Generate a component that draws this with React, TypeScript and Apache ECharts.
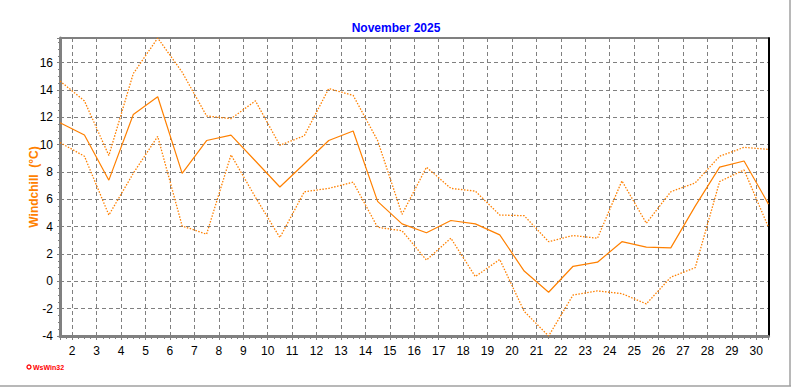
import React, { useEffect, useRef } from "react";
import * as echarts from "echarts";

const TITLE = "November 2025";
const Y_NAME = "Windchill  (°C)";
const CREDIT = "WsWin32";

// x positions (midday of each day)
const days = [
  1.5, 2.5, 3.5, 4.5, 5.5, 6.5, 7.5, 8.5, 9.5, 10.5,
  11.5, 12.5, 13.5, 14.5, 15.5, 16.5, 17.5, 18.5, 19.5, 20.5,
  21.5, 22.5, 23.5, 24.5, 25.5, 26.5, 27.5, 28.5, 29.5, 30.5,
];

// mean windchill (solid)
const meanValues = [
  11.6, 10.7, 7.4, 12.2, 13.5, 7.9, 10.3, 10.7, 8.8, 6.9,
  8.6, 10.3, 11.0, 5.85, 4.2, 3.55, 4.45, 4.2, 3.4, 0.75,
  -0.8, 1.1, 1.4, 2.9, 2.5, 2.45, 5.5, 8.35, 8.8, 5.65,
];

// maximum (upper dotted)
const maxValues = [
  14.65, 13.2, 9.2, 15.2, 17.8, 15.3, 12.1, 11.9, 13.2, 9.95,
  10.65, 14.1, 13.6, 10.3, 4.9, 8.35, 6.8, 6.6, 4.85, 4.8,
  2.9, 3.35, 3.15, 7.35, 4.25, 6.55, 7.2, 9.15, 9.8, 9.65,
];

// minimum (lower dotted)
const minValues = [
  10.15, 9.15, 4.85, 7.9, 10.6, 4.05, 3.45, 9.25, 6.15, 3.2,
  6.55, 6.8, 7.25, 3.95, 3.7, 1.55, 3.15, 0.35, 1.6, -2.2,
  -4.0, -1.0, -0.7, -0.9, -1.65, 0.3, 1.0, 7.3, 8.15, 3.95,
];

const X_MIN = 1.5;
const X_MAX = 30.5;
const Y_MIN = -4;
const Y_MAX = 17.8;
const Y_STEP = 2;

const ORANGE = "#FF8000";
const GRID_GRAY = "#808080";

export default function App() {
  const ref = useRef<HTMLDivElement>(null);

  useEffect(() => {
    if (!ref.current) return;
    const chart = echarts.init(ref.current, undefined, { renderer: "svg" });
    const pair = (vals: number[]) => days.map((d, i) => [d, vals[i]]);
    const gridLine = { show: true, lineStyle: { color: GRID_GRAY, type: [4, 3] as any, width: 1 } };
    const font = "'Liberation Sans', Arial, sans-serif";

    chart.setOption({
      animation: false,
      backgroundColor: "#ffffff",
      title: {
        text: TITLE,
        left: "center",
        top: 17,
        textStyle: { color: "#0000FF", fontWeight: "bold", fontSize: 12, fontFamily: font },
      },
      grid: {
        left: 60,
        right: 23.5,
        top: 38,
        bottom: 51,
        show: true,
        borderColor: "#000000",
        borderWidth: 1,
        backgroundColor: "#ffffff",
      },
      xAxis: [
        {
          type: "value",
          min: X_MIN,
          max: X_MAX,
          splitNumber: 29,
          minInterval: 1,
          maxInterval: 1,
          axisLine: { show: true, onZero: false, lineStyle: { color: GRID_GRAY, width: 3 } },
          axisTick: { show: true, length: 4, lineStyle: { color: GRID_GRAY } },
          minorTick: { show: true, splitNumber: 4, length: 3, lineStyle: { color: GRID_GRAY } },
          axisLabel: {
            color: "#000",
            fontSize: 12,
            fontFamily: font,
            margin: 9,
            formatter: (v: number) => (Number.isInteger(v) ? String(v) : ""),
          },
          splitLine: gridLine,
        },
      ],
      yAxis: [
        {
          type: "value",
          min: Y_MIN,
          max: Y_MAX,
          interval: Y_STEP,
          name: Y_NAME,
          nameLocation: "middle",
          nameGap: 20,
          nameMoveOverlap: false,
          nameTextStyle: { color: ORANGE, fontWeight: "bold", fontSize: 12, fontFamily: font },
          axisLine: { show: true, onZero: false, lineStyle: { color: GRID_GRAY, width: 3 } },
          axisTick: { show: true, length: 3, lineStyle: { color: GRID_GRAY } },
          minorTick: { show: true, splitNumber: 4, length: 2, lineStyle: { color: GRID_GRAY } },
          axisLabel: {
            color: "#000",
            fontSize: 12,
            fontFamily: font,
            margin: 7,
            formatter: (v: number) => (v > 16.5 ? "" : String(v)),
          },
          splitLine: gridLine,
        },
        {
          type: "value",
          position: "right",
          min: Y_MIN,
          max: Y_MAX,
          interval: Y_STEP,
          axisLine: { show: true, onZero: false, lineStyle: { color: "#000", width: 2 } },
          axisTick: { show: false },
          axisLabel: { show: false },
          splitLine: { show: false },
        },
      ],
      graphic: [
        { type: "line", shape: { x1: 790, y1: 0, x2: 790, y2: 386 }, style: { stroke: "#a0a0a0", lineWidth: 1.5 } },
        { type: "line", shape: { x1: 0, y1: 386, x2: 791, y2: 386 }, style: { stroke: "#a0a0a0", lineWidth: 1.5 } },
        { type: "circle", shape: { cx: 29, cy: 367, r: 2 }, style: { stroke: "#FF0000", fill: "#fff", lineWidth: 1.3 } },
        {
          type: "text",
          x: 33,
          y: 367,
          style: { text: CREDIT, fill: "#FF0000", font: "bold 7px 'Liberation Sans', Arial, sans-serif", textVerticalAlign: "middle" },
        },
      ],
      series: [
        {
          name: "max",
          type: "line",
          data: pair(maxValues),
          symbol: "none",
          lineStyle: { color: ORANGE, width: 1.3, type: [1.5, 1.5] },
        },
        {
          name: "mean",
          type: "line",
          data: pair(meanValues),
          symbol: "none",
          lineStyle: { color: ORANGE, width: 1.2, type: "solid" },
        },
        {
          name: "min",
          type: "line",
          data: pair(minValues),
          symbol: "none",
          lineStyle: { color: ORANGE, width: 1.3, type: [1.5, 1.5] },
        },
      ],
    });
    return () => chart.dispose();
  }, []);

  return (
    <div
      ref={ref}
      style={{ position: "fixed", left: 0, top: 0, width: 792, height: 387, background: "#fff" }}
    />
  );
}
